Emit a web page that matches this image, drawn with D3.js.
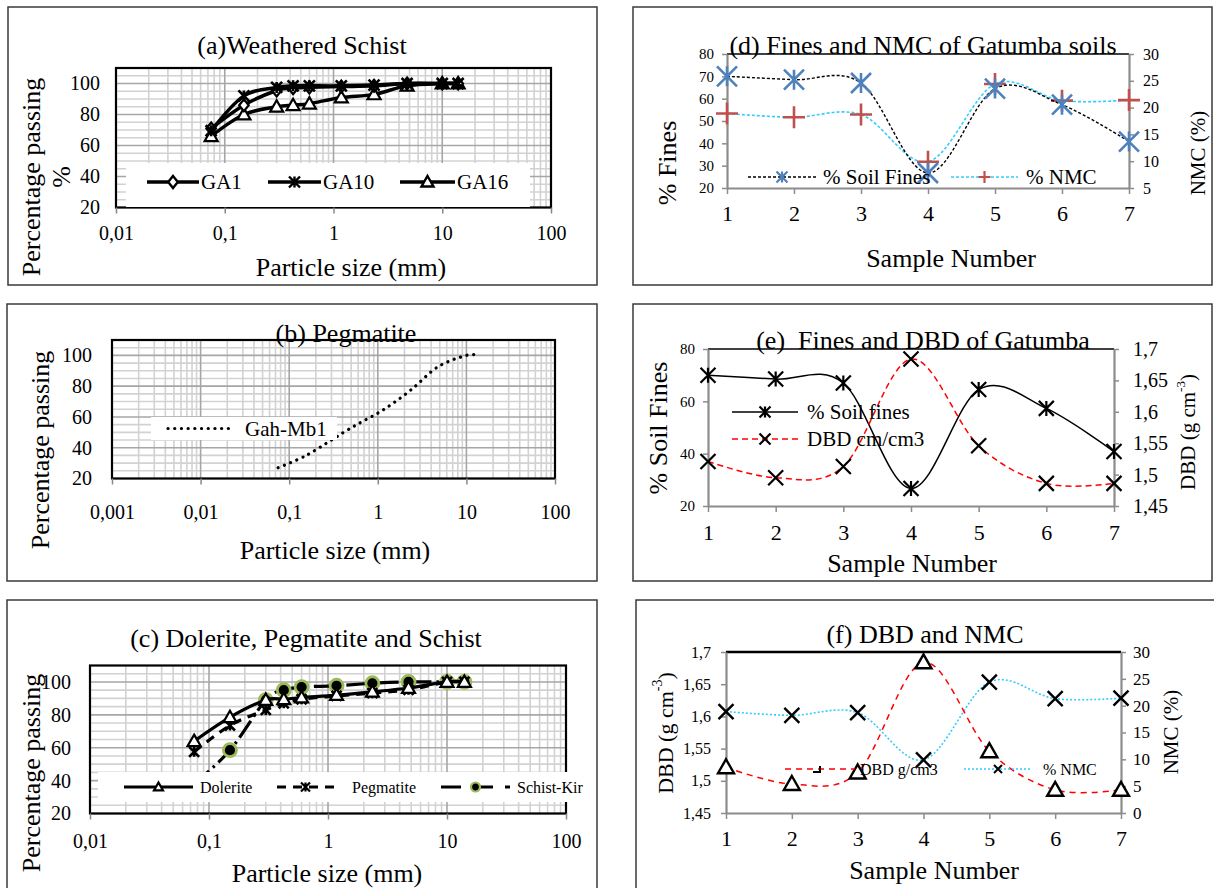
<!DOCTYPE html>
<html><head><meta charset="utf-8">
<script src="https://cdn.jsdelivr.net/npm/d3@7"></script>
<style>
body{margin:0;background:#fff;}
svg{display:block;font-family:"Liberation Serif","Times New Roman",serif;}
</style></head><body>
<svg id="c" width="1214" height="888"></svg>
<script>
// ---------- DATA ----------
const sieveSizes = [0.075, 0.15, 0.3, 0.425, 0.6, 1.18, 2.36, 4.75, 10, 14];
const ga1 = [71, 86, 95.5, 97, 97.5, 98, 98.5, 100, 100, 100];
const ga10 = [69.5, 92, 97.5, 98.5, 98.5, 98.5, 99, 100, 100, 100];
const ga16 = [66, 80, 85, 86, 87, 91, 93, 98.5, 100, 100];
const gahMb1 = [27, 34.5, 45, 50.5, 55.5, 65, 77.5, 92.5, 100, 100];
const dolerite = [64, 78.5, 89, 89.5, 90.5, 92, 94, 96.3, 100, 100];
const pegmatite = [57.5, 73.5, 83, 87, 89.5, 91.5, 93.2, 95.2, 100, 100];
const schistKir = [38, 58.5, 89, 95, 96.9, 97.7, 99.2, 100, 100, 100];

const sampleNumbers = [1, 2, 3, 4, 5, 6, 7];
const soilFines = [70, 68.5, 67, 26.7, 64.5, 57.3, 40.8];
const nmcPct = [18.9, 18.2, 18.7, 9.9, 24.4, 21.3, 21.4];
const dbd = [1.521, 1.495, 1.513, 1.684, 1.546, 1.486, 1.486];

const pctTicks = [20, 40, 60, 80, 100];
const sizeTicksAC = [0.01, 0.1, 1, 10, 100];
const sizeTicksB = [0.001, 0.01, 0.1, 1, 10, 100];
const finesTicksD = [20, 30, 40, 50, 60, 70, 80];
const nmcTicksD = [5, 10, 15, 20, 25, 30];
const finesTicksE = [20, 40, 60, 80];
const dbdTicks = [1.45, 1.5, 1.55, 1.6, 1.65, 1.7];
const nmcTicksF = [0, 5, 10, 15, 20, 25, 30];

// ---------- HELPERS ----------
const svg = d3.select('#c');
const comma = d => String(d).replace('.', ',');
const smooth = d3.curveCardinal.tension(0);
const MK = {
  asterisk: s => { const h = s / 2; return `M${-h},${-h}L${h},${h}M${-h},${h}L${h},${-h}M0,${-h}L0,${h}`; },
  cross: s => { const h = s / 2; return `M${-h},${-h}L${h},${h}M${-h},${h}L${h},${-h}`; },
  plus: s => { const h = s / 2; return `M${-h},0L${h},0M0,${-h}L0,${h}`; },
  triangle: s => { const h = s / 2; return `M0,${-h}L${h},${h * 0.75}L${-h},${h * 0.75}Z`; },
  diamond: s => { const h = s / 2; return `M0,${-h}L${h * 0.8},0L0,${h}L${-h * 0.8},0Z`; },
  circle: s => d3.symbol(d3.symbolCircle, s * s * Math.PI / 4)()
};

function box(x0, y0, x1, y1) {
  svg.append('rect').attr('x', x0).attr('y', y0).attr('width', x1 - x0).attr('height', y1 - y0)
    .attr('fill', 'none').attr('stroke', '#3a3a3a').attr('stroke-width', 1.5);
}
function txt(x, y, s, size, opt = {}) {
  const t = svg.append('text').attr('x', x).attr('y', y).text(s)
    .attr('font-size', size).attr('fill', opt.fill || '#000')
    .attr('text-anchor', opt.anchor || 'middle').attr('dominant-baseline', 'central')
    .style('white-space', 'pre');
  if (opt.rotate) t.attr('transform', `rotate(-90,${x},${y})`);
  return t;
}
function markers(g, xs, ys, shape, size, stroke, fill, sw) {
  g.selectAll(null).data(xs.map((v, i) => [v, ys[i]])).join('path')
    .attr('transform', d => `translate(${d[0]},${d[1]})`)
    .attr('d', MK[shape](size)).attr('fill', fill).attr('stroke', stroke).attr('stroke-width', sw);
}
const isPow10 = v => Math.abs(Math.log10(v) - Math.round(Math.log10(v))) < 1e-9;

// ---------- GRADATION PANEL ----------
function gradPanel(cfg) {
  const x = d3.scaleLog().domain(cfg.xDomain).range(cfg.xRange);
  const y = d3.scaleLinear().domain([20, 110]).range(cfg.yRange);
  const [xa, xb] = cfg.xRange, [yb, yt] = cfg.yRange;
  const g = svg.append('g');
  const vt = x.ticks();
  g.selectAll(null).data(vt.filter(v => !isPow10(v))).join('line')
    .attr('x1', d => x(d)).attr('x2', d => x(d)).attr('y1', yt).attr('y2', yb)
    .attr('stroke', '#d2d2d2').attr('stroke-width', 1.6);
  const hMinor = d3.range(25, 110, 5).filter(v => v % 20 !== 0);
  g.selectAll(null).data(hMinor).join('line')
    .attr('x1', xa).attr('x2', xb).attr('y1', d => y(d)).attr('y2', d => y(d))
    .attr('stroke', '#d2d2d2').attr('stroke-width', 1.6);
  g.selectAll(null).data(pctTicks).join('line')
    .attr('x1', xa).attr('x2', xb).attr('y1', d => y(d)).attr('y2', d => y(d))
    .attr('stroke', '#a6a6a6').attr('stroke-width', 1.6);
  g.selectAll(null).data(vt.filter(isPow10)).join('line')
    .attr('x1', d => x(d)).attr('x2', d => x(d)).attr('y1', yt).attr('y2', yb)
    .attr('stroke', '#a6a6a6').attr('stroke-width', 1.6);
  g.append('rect').attr('x', xa).attr('y', yt).attr('width', xb - xa).attr('height', yb - yt)
    .attr('fill', 'none').attr('stroke', '#000').attr('stroke-width', 2.2);
  const ax = g.append('g').attr('transform', `translate(0,${yb})`)
    .call(d3.axisBottom(x).tickValues(cfg.xTicks).tickFormat(comma).tickSize(6).tickSizeOuter(0));
  ax.select('.domain').remove();
  ax.selectAll('line').attr('stroke', '#888').attr('stroke-width', 1.5);
  ax.selectAll('text').attr('font-family', 'Liberation Serif').attr('font-size', 20).attr('fill', '#000')
    .attr('y', cfg.xLabOff).attr('dy', '0.35em');
  const ay = g.append('g').attr('transform', `translate(${xa},0)`)
    .call(d3.axisLeft(y).tickValues(pctTicks).tickSize(0).tickPadding(cfg.yLabOff));
  ay.select('.domain').remove();
  ay.selectAll('text').attr('font-family', 'Liberation Serif').attr('font-size', 20).attr('fill', '#000');
  const clipId = 'clip' + Math.round(xa) + Math.round(yt);
  svg.append('clipPath').attr('id', clipId).append('rect')
    .attr('x', xa).attr('y', yt).attr('width', xb - xa).attr('height', yb - yt);
  const plot = svg.append('g').attr('clip-path', `url(#${clipId})`);
  return { x, y, plot };
}
function gradSeries(P, vals, o) {
  const line = d3.line().x((d, i) => P.x(sieveSizes[i])).y(d => P.y(d)).curve(smooth);
  P.plot.append('path').attr('d', line(vals)).attr('fill', 'none').attr('stroke', '#000')
    .attr('stroke-width', o.sw).attr('stroke-dasharray', o.dash || null).attr('stroke-linecap', o.cap || 'butt');
  if (o.marker) markers(P.plot, sieveSizes.map(P.x), vals.map(P.y), o.marker, o.ms, o.mStroke || '#000', o.mFill || '#fff', o.msw || 2.2);
}

// ---------- PANEL (a) ----------
box(8, 7, 597, 285);
txt(302, 45, '(a)Weathered Schist', 26);
const PA = gradPanel({ xDomain: [0.01, 100], xRange: [116, 551], yRange: [207.5, 68], xTicks: sizeTicksAC, xLabOff: 25, yLabOff: 16 });
gradSeries(PA, ga16, { sw: 3.5, marker: 'triangle', ms: 13 });
gradSeries(PA, ga1, { sw: 3.5, marker: 'diamond', ms: 12 });
gradSeries(PA, ga10, { sw: 3.5, marker: 'asterisk', ms: 11, msw: 2.6 });
txt(31, 177, 'Percentage passing', 26, { rotate: true });
txt(61, 177, '%', 26, { rotate: true });
txt(351, 267, 'Particle size (mm)', 26);
svg.append('rect').attr('x', 126).attr('y', 163).attr('width', 404).attr('height', 44).attr('fill', '#fff');
[[147, 199, 'GA1', 'diamond', 12], [268, 321, 'GA10', 'asterisk', 11], [400, 455, 'GA16', 'triangle', 12]].forEach(([a, b, s, m, ms]) => {
  svg.append('line').attr('x1', a).attr('x2', b).attr('y1', 182).attr('y2', 182).attr('stroke', '#000').attr('stroke-width', 3.5);
  markers(svg, [(a + b) / 2], [182], m, ms, '#000', '#fff', 2.4);
  txt(b + 2, 182, s, 21, { anchor: 'start' });
});

// ---------- PANEL (b) ----------
box(7, 304, 597, 581);
const PB = gradPanel({ xDomain: [0.001, 100], xRange: [112, 555], yRange: [478.5, 340], xTicks: sizeTicksB, xLabOff: 33, yLabOff: 20 });
gradSeries(PB, gahMb1, { sw: 3.2, dash: '0.1 6.6', cap: 'round' });
txt(346, 333, '(b) Pegmatite', 26);
txt(40, 450, 'Percentage passing', 26, { rotate: true });
txt(335, 550, 'Particle size (mm)', 26);
svg.append('rect').attr('x', 151).attr('y', 417).attr('width', 186).attr('height', 23).attr('fill', '#fff');
svg.append('line').attr('x1', 168).attr('x2', 234).attr('y1', 428.5).attr('y2', 428.5).attr('stroke', '#000')
  .attr('stroke-width', 3.2).attr('stroke-dasharray', '0.1 6.6').attr('stroke-linecap', 'round');
txt(245, 428.5, 'Gah-Mb1', 21, { anchor: 'start' });

// ---------- PANEL (c) ----------
box(7, 600, 597, 892);
txt(306, 638, '(c) Dolerite, Pegmatite and Schist', 26);
const PC = gradPanel({ xDomain: [0.01, 100], xRange: [90, 566], yRange: [813.5, 665.5], xTicks: sizeTicksAC, xLabOff: 27, yLabOff: 19 });
gradSeries(PC, schistKir, { sw: 3.2, dash: '20 5 2.5 5', marker: 'circle', ms: 13, mStroke: '#9BBB59', mFill: '#000', msw: 2.8 });
gradSeries(PC, pegmatite, { sw: 3.2, dash: '9 7', marker: 'asterisk', ms: 10, msw: 2.6 });
gradSeries(PC, dolerite, { sw: 3.2, marker: 'triangle', ms: 13 });
txt(31, 773, 'Percentage passing', 26, { rotate: true });
txt(327, 873, 'Particle size (mm)', 26);
svg.append('rect').attr('x', 98).attr('y', 772).attr('width', 487).attr('height', 30).attr('fill', '#fff');
[[124, 193, 'Dolerite', 'triangle', null, '#000', '#fff', 200],
 [277, 334, 'Pegmatite', 'asterisk', '9 7', '#000', '#fff', 352],
 [441, 510, 'Schist-Kir', 'circle', '20 12', '#9BBB59', '#000', 517]].forEach(([a, b, s, m, dash, st, fi, tx]) => {
  svg.append('line').attr('x1', a).attr('x2', b).attr('y1', 787).attr('y2', 787).attr('stroke', '#000')
    .attr('stroke-width', 3.2).attr('stroke-dasharray', dash);
  markers(svg, [(a + b) / 2], [787], m, m === 'circle' ? 9 : 9, st, fi, 2.2);
  txt(tx, 787, s, 16, { anchor: 'start' });
});

// ---------- DUAL-AXIS PANELS ----------
function dualPanel(cfg) {
  const x = d3.scaleLinear().domain([1, 7]).range(cfg.xRange);
  const yL = d3.scaleLinear().domain(cfg.lDomain).range(cfg.yRange);
  const yR = d3.scaleLinear().domain(cfg.rDomain).range(cfg.yRange);
  const [xa, xb] = cfg.xRange, [yb, yt] = cfg.yRange;
  const g = svg.append('g');
  g.append('line').attr('x1', xa).attr('x2', xb).attr('y1', yt).attr('y2', yt).attr('stroke', '#000').attr('stroke-width', cfg.topW || 1.6);
  const style = (a, size) => {
    a.select('.domain').attr('stroke', '#8c8c8c').attr('stroke-width', 2.2);
    a.selectAll('.tick line').attr('stroke', '#8c8c8c').attr('stroke-width', 1.5);
    a.selectAll('text').attr('font-family', 'Liberation Serif').attr('font-size', size).attr('fill', '#000');
  };
  const ax = g.append('g').attr('transform', `translate(0,${yb})`)
    .call(d3.axisBottom(x).tickValues(sampleNumbers).tickFormat(d3.format('d')).tickSize(6).tickSizeOuter(0));
  style(ax, 22);
  ax.selectAll('text').attr('y', cfg.xLabOff).attr('dy', '0.35em');
  const al = g.append('g').attr('transform', `translate(${xa},0)`)
    .call(d3.axisLeft(yL).tickValues(cfg.lTicks).tickFormat(comma).tickSize(5).tickSizeOuter(0).tickPadding(cfg.lPad));
  style(al, cfg.lSize);
  const ar = g.append('g').attr('transform', `translate(${xb},0)`)
    .call(d3.axisRight(yR).tickValues(cfg.rTicks).tickFormat(comma).tickSize(5).tickSizeOuter(0).tickPadding(cfg.rPad));
  style(ar, cfg.rSize);
  return { x, yL, yR, g };
}
function dualSeries(P, scale, vals, o) {
  const line = d3.line().x((d, i) => P.x(sampleNumbers[i])).y(d => scale(d)).curve(smooth);
  P.g.append('path').attr('d', line(vals)).attr('fill', 'none').attr('stroke', o.color)
    .attr('stroke-width', o.sw).attr('stroke-dasharray', o.dash || null);
  markers(P.g, sampleNumbers.map(P.x), vals.map(scale), o.marker, o.ms, o.mColor, o.mFill || 'none', o.msw);
}
function legendItem(a, b, y, o, label, size, tx) {
  svg.append('line').attr('x1', a).attr('x2', b).attr('y1', y).attr('y2', y).attr('stroke', o.color)
    .attr('stroke-width', o.sw).attr('stroke-dasharray', o.dash || null);
  if (o.marker) markers(svg, [o.mx || (a + b) / 2], [y], o.marker, o.ms, o.mColor, o.mFill || 'none', o.msw);
  txt(tx, y, label, size, { anchor: 'start' });
}

// ---------- PANEL (d) ----------
box(633, 7, 1212, 285);
const PD = dualPanel({ xRange: [727, 1129], yRange: [188, 54], lDomain: [20, 80], rDomain: [5, 30],
  lTicks: finesTicksD, rTicks: nmcTicksD, lPad: 8, rPad: 9, lSize: 15, rSize: 16, xLabOff: 25 });
const finesStyleD = { color: '#000', sw: 1.4, dash: '3 2', marker: 'asterisk', ms: 20, mColor: '#4F81BD', msw: 2.6 };
const nmcStyleD = { color: '#33CCFF', sw: 1.6, dash: '3 2', marker: 'plus', ms: 22, mColor: '#C0504D', msw: 2.6 };
dualSeries(PD, PD.yR, nmcPct, nmcStyleD);
dualSeries(PD, PD.yL, soilFines, finesStyleD);
legendItem(748, 816, 177, Object.assign({}, finesStyleD, { ms: 11, msw: 2.2 }), '% Soil Fines', 21, 823);
legendItem(951, 1018, 177, Object.assign({}, nmcStyleD, { ms: 12, msw: 2.2 }), '% NMC', 21, 1026);
txt(923, 45, '(d) Fines and NMC of Gatumba soils', 26);
txt(667, 163, '% Fines', 26, { rotate: true });
txt(1198, 153, 'NMC (%)', 21, { rotate: true });
txt(951, 258, 'Sample Number', 26);

// ---------- PANEL (e) ----------
box(633, 304, 1212, 581);
const PE = dualPanel({ xRange: [708, 1114], yRange: [506, 349], lDomain: [20, 80], rDomain: [1.45, 1.7],
  lTicks: finesTicksE, rTicks: dbdTicks, lPad: 8, rPad: 14, lSize: 15, rSize: 20, xLabOff: 26 });
const finesStyleE = { color: '#000', sw: 1.5, marker: 'asterisk', ms: 15, mColor: '#000', msw: 2.2 };
const dbdStyleE = { color: '#FF0000', sw: 1.5, dash: '6 4', marker: 'cross', ms: 15, mColor: '#000', msw: 2.2 };
dualSeries(PE, PE.yL, soilFines, finesStyleE);
dualSeries(PE, PE.yR, dbd, dbdStyleE);
legendItem(732, 798, 412, Object.assign({}, finesStyleE, { ms: 11 }), '% Soil fines', 21, 807);
legendItem(732, 798, 439, Object.assign({}, dbdStyleE, { ms: 11 }), 'DBD cm/cm3', 21, 807);
txt(923, 340, '(e)  Fines and DBD of Gatumba', 26);
txt(658, 428, '% Soil Fines', 26, { rotate: true });
const dbdLabE = txt(1188, 432, 'DBD (g cm', 21, { rotate: true });
dbdLabE.append('tspan').attr('baseline-shift', 'super').attr('font-size', 13).text('-3');
dbdLabE.append('tspan').text(')');
txt(912, 563, 'Sample Number', 26);

// ---------- PANEL (f) ----------
box(636, 600, 1216, 892);
const PF = dualPanel({ xRange: [726, 1121], yRange: [813, 652], lDomain: [1.45, 1.7], rDomain: [0, 30],
  lTicks: dbdTicks, rTicks: nmcTicksF, lPad: 10, rPad: 7, lSize: 16, rSize: 17, xLabOff: 25, topW: 2.4 });
const dbdStyleF = { color: '#FF0000', sw: 1.5, dash: '6 5', marker: 'triangle', ms: 16, mColor: '#000', mFill: '#fff', msw: 2.4 };
const nmcStyleF = { color: '#33CCFF', sw: 1.6, dash: '2 2', marker: 'cross', ms: 15, mColor: '#000', msw: 2.4 };
dualSeries(PF, PF.yR, nmcPct, nmcStyleF);
dualSeries(PF, PF.yL, dbd, dbdStyleF);
legendItem(785, 855, 769, { color: '#FF0000', sw: 1.5, dash: '6 5' }, 'DBD g/cm3', 16, 860);
svg.append('path').attr('d', 'M813,772L820,772L820,766').attr('fill', 'none').attr('stroke', '#000').attr('stroke-width', 2);
legendItem(964, 1032, 769, { color: '#33CCFF', sw: 1.6, dash: '2 2', marker: 'cross', ms: 8, mColor: '#000', msw: 2, mx: 998 }, '% NMC', 16, 1043);
txt(925, 634, '(f) DBD and NMC', 26);
const dbdLabF = txt(665, 733, 'DBD (g cm', 22, { rotate: true });
dbdLabF.append('tspan').attr('baseline-shift', 'super').attr('font-size', 14).text('-3');
dbdLabF.append('tspan').text(')');
txt(1171, 732, 'NMC (%)', 21, { rotate: true });
txt(934, 870, 'Sample Number', 26);
</script>
</body></html>
